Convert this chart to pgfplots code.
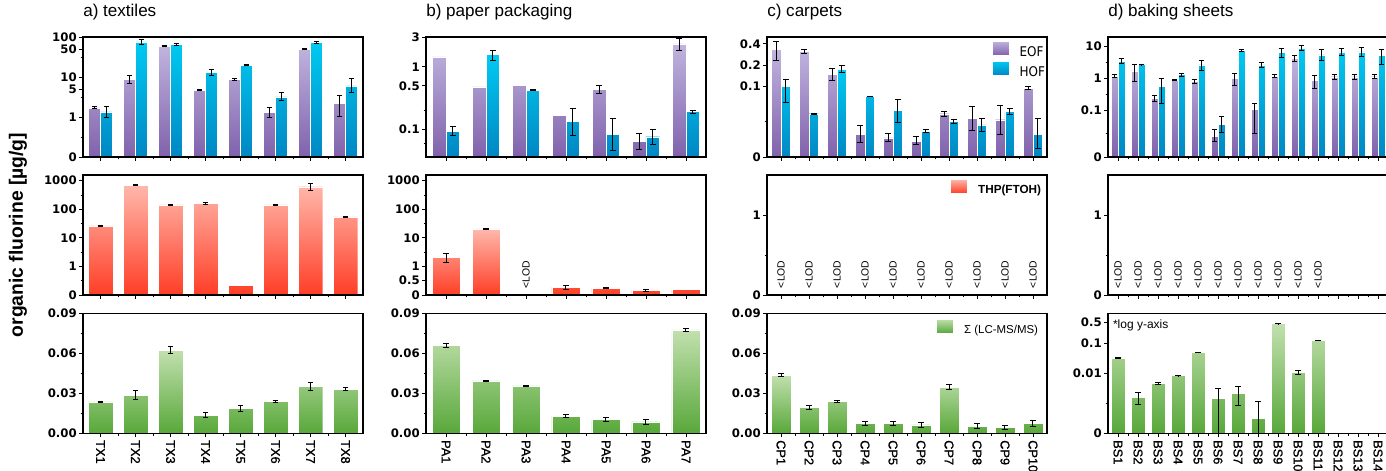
\documentclass[border=0pt]{standalone}
\usepackage{fontspec}
\setmainfont{Liberation Sans}
\newfontfamily\dvs{DejaVu Sans}
\newfontfamily\dvc{DejaVu Sans Condensed}
\newfontfamily\medsans{Liberation Sans}[FakeBold=1.1]
\usepackage{pgfplots}
\usepackage{pgfplotstable}
\pgfplotsset{compat=1.18}

\definecolor{eofT}{RGB}{192,180,222}
\definecolor{eofB}{RGB}{128,98,172}
\definecolor{hofT}{RGB}{0,202,242}
\definecolor{hofB}{RGB}{0,135,195}
\definecolor{thpT}{RGB}{255,184,172}
\definecolor{thpB}{RGB}{255,62,38}
\definecolor{lcT}{RGB}{194,224,174}
\definecolor{lcB}{RGB}{88,168,58}

% top row: EOF / HOF
\pgfplotstableread{
x y ep em
0 1.7 0.1 0.1
1 8.7 1.9 2.0
2 60 1.5 1.5
3 4.7 0.15 0.15
4 8.7 0.6 0.6
5 1.3 0.45 0.32
6 50 2.5 2.5
7 2.2 1.3 1.2
}\taEOF
\pgfplotstableread{
x y ep em
0 1.35 0.45 0.37
1 76 11.6 10.3
2 66 4 4
3 13.3 2.3 2.1
4 19.6 0.5 0.5
5 3.2 0.85 0.55
6 74 5 5
7 6 3.4 2
}\taHOF
\pgfplotstableread{
x y ep em
0 1.45 0 0
1 0.48 0 0
2 0.505 0 0
3 0.169 0 0
4 0.44 0.065 0.06
5 0.065 0.022 0.016
6 2.34 0.46 0.49
}\tbEOF
\pgfplotstableread{
x y ep em
0 0.095 0.017 0.013
1 1.57 0.28 0.29
2 0.425 0.012 0.012
3 0.135 0.079 0.053
4 0.084 0.067 0.038
5 0.077 0.023 0.02
6 0.194 0.01 0.01
}\tbHOF
\pgfplotstableread{
x y ep em
0 0.334 0.103 0.101
1 0.313 0.017 0.023
2 0.148 0.032 0.028
3 0.0207 0.0068 0.0049
4 0.0186 0.0028 0.0018
5 0.0167 0.0025 0.0018
6 0.041 0.003 0.003
7 0.0352 0.0168 0.0114
8 0.0337 0.0201 0.0127
9 0.0947 0.0033 0.003
}\tcEOF
\pgfplotstableread{
x y ep em
0 0.1 0.0257 0.0413
1 0.041 0.0005 0.0005
2 0.176 0.022 0.018
3 0.0722 0.0005 0.0005
4 0.0453 0.0202 0.0147
5 0.0231 0.0012 0.0011
6 0.032 0.002 0.0023
7 0.0284 0.0066 0.0053
8 0.0443 0.0047 0.0046
9 0.0209 0.0139 0.0076
}\tcHOF
\pgfplotstableread{
x y ep em
0 1.21 0.15 0.14
1 1.71 0.93 0.925
2 0.233 0.062 0.05
3 0.886 0.03 0.03
4 0.824 0.126 0.124
5 0.0155 0.009 0.005
6 1.0 0.44 0.384
7 0.108 0.055 0.0888
8 1.19 0.12 0.12
9 4.18 1.15 0.74
10 0.865 0.375 0.393
11 1.13 0.23 0.2
12 1.13 0.2 0.18
13 1.13 0.15 0.15
}\tdEOF
\pgfplotstableread{
x y ep em
0 3.52 0.78 0.54
1 2.7 0.05 0.05
2 0.573 0.427 0.41
3 1.31 0.14 0.13
4 2.64 0.97 0.81
5 0.0361 0.0285 0.0154
6 7.66 0.54 0.56
7 2.64 0.46 0.44
8 6.46 2.19 1.86
9 8.86 1.84 1.38
10 5.45 2.4 1.84
11 6.79 2.07 1.72
12 6.79 2.5 1.84
13 5.2 3.04 2.56
}\tdHOF

% middle row: THP(FTOH)
\pgfplotstableread{
x y ep em
0 26.2 1.5 1.5
1 706 45 45
2 142 8 8
3 162 9 9
4 0.223 0 0
5 142 7 7
6 617 183 147
7 54 3 3
}\maTHP
\pgfplotstableread{
x y ep em
0 2.06 0.71 0.68
1 20.6 1 1
3 0.19 0.033 0.028
4 0.175 0.01 0.01
5 0.149 0.012 0.012
6 0.154 0 0
}\mbTHP

% bottom row: sum LC-MS/MS
\pgfplotstableread{
x y ep em
0 0.0235 0.0003 0.0003
1 0.0285 0.0032 0.0032
2 0.0623 0.0025 0.0025
3 0.0135 0.0018 0.0018
4 0.0185 0.002 0.002
5 0.024 0.0006 0.0006
6 0.035 0.003 0.003
7 0.033 0.001 0.001
}\baLC
\pgfplotstableread{
x y ep em
0 0.0658 0.0012 0.0012
1 0.0393 0.0003 0.0003
2 0.0355 0.0005 0.0005
3 0.0128 0.0012 0.0012
4 0.0103 0.0015 0.0015
5 0.0085 0.0017 0.0017
6 0.0775 0.001 0.001
}\bbLC
\pgfplotstableread{
x y ep em
0 0.0438 0.001 0.001
1 0.0193 0.0015 0.0015
2 0.0238 0.0008 0.0008
3 0.0073 0.0013 0.0013
4 0.0073 0.0014 0.0014
5 0.0063 0.0018 0.0018
6 0.0345 0.0017 0.0017
7 0.0053 0.0017 0.0017
8 0.0043 0.0015 0.0015
9 0.0073 0.002 0.002
}\bcLC
\pgfplotstableread{
x y ep em
0 0.0329 0.0008 0.0008
1 0.00159 0.00064 0.00071
2 0.0046 0.0005 0.0004
3 0.00834 0.0002 0.0002
4 0.0497 0.001 0.001
5 0.00144 0.00166 0.00134
6 0.00217 0.00138 0.00134
7 0.00032 0.00085 0.00022
8 0.449 0.005 0.005
9 0.0108 0.0018 0.0015
10 0.126 0.002 0.002
}\bdLC

\tikzset{lod/.style={rotate=90, anchor=west, inner sep=0pt, font=\fontsize{7.8}{8}\selectfont}}

\pgfplotsset{
  panel/.style={
    scale only axis, width=210pt, height=90pt, axis on top,
    axis line style={line width=0.9pt},
    tick pos=left, tick align=outside,
    major tick length=3pt, minor tick length=1.8pt,
    every tick/.append style={black, line width=0.7pt},
    enlargelimits=false, scaled y ticks=false,
    minor x tick num=1,
    yticklabel style={font=\dvs\bfseries\fontsize{8.8}{10}\selectfont, inner sep=1.5pt},
    xticklabel style={font=\medsans\fontsize{9.6}{10}\selectfont, rotate=-90, anchor=west, inner sep=2pt},
    title style={at={(0,1)}, anchor=base west, yshift=9pt, inner sep=0pt,
      font=\fontsize{12.8}{14}\selectfont},
    legend style={draw=none, fill=none, inner sep=0pt, outer sep=0pt, row sep=2pt,
      nodes={inner sep=0pt}},
  },
  sw/.style={legend image code/.code={\path[##1] (0pt,-2.1pt) rectangle (12.75pt,8.4pt); \path (20.5pt,0pt);}},
  eofbar/.style={draw=white, line width=0.3pt, top color=eofT, bottom color=eofB},
  hofbar/.style={draw=white, line width=0.3pt, top color=hofT, bottom color=hofB},
  thpbar/.style={draw=white, line width=0.3pt, top color=thpT, bottom color=thpB},
  lcbar/.style={draw=white, line width=0.3pt, top color=lcT, bottom color=lcB},
  errs/.style={forget plot, draw=none, fill=none,
    restrict expr to domain={\thisrow{ep}}{0.0000001:1000000},
    error bars/y dir=both, error bars/y explicit,
    error bars/error bar style={draw=black, line width=0.75pt},
    error bars/error mark options={draw=black, line width=0.75pt, mark size=2.1pt, rotate=90}},
}

\begin{document}
\begin{tikzpicture}

% ---------- top row ----------
\begin{axis}[panel, at={(62.25pt,235.5pt)}, anchor=south west,
  title={a) textiles},
  ymode=log, log origin y=infty, ymin=0.1, ymax=100,
  ytick={0.1,1,5,10,50,100}, yticklabels={0,1,5,10,50,100},
  minor ytick={0.316,3.16,31.6},
  xmin=-0.5, xmax=7.5, xtick={0,...,7}, xticklabels={},
  ybar, bar width=0.34]
\addplot[bar shift=-0.17, eofbar] table[x=x,y=y]{\taEOF};
\addplot[bar shift=0.17, hofbar] table[x=x,y=y]{\taHOF};
\addplot[bar shift=-0.17, errs] table[x=x,y=y,y error plus=ep,y error minus=em]{\taEOF};
\addplot[bar shift=0.17, errs] table[x=x,y=y,y error plus=ep,y error minus=em]{\taHOF};
\end{axis}

\begin{axis}[panel, at={(319.5pt,235.5pt)}, anchor=south west,
  title={b) paper packaging},
  ymode=log, log origin y=infty, ymin=0.0366, ymax=3,
  ytick={0.1,0.5,1,3}, yticklabels={0.1,0.5,1,3},
  minor ytick={0.06,0.2},
  xmin=-0.5, xmax=6.5, xtick={0,...,6}, xticklabels={},
  ybar, bar width=0.34]
\addplot[bar shift=-0.17, eofbar] table[x=x,y=y]{\tbEOF};
\addplot[bar shift=0.17, hofbar] table[x=x,y=y]{\tbHOF};
\addplot[bar shift=-0.17, errs] table[x=x,y=y,y error plus=ep,y error minus=em]{\tbEOF};
\addplot[bar shift=0.17, errs] table[x=x,y=y,y error plus=ep,y error minus=em]{\tbHOF};
\end{axis}

\begin{axis}[panel, at={(575.25pt,235.5pt)}, anchor=south west,
  title={c) carpets},
  ymode=log, log origin y=infty, ymin=0.01, ymax=0.5,
  ytick={0.01,0.1,0.2,0.4}, yticklabels={0,0.1,0.2,0.4},
  minor ytick={0.0316},
  xmin=-0.5, xmax=9.5, xtick={0,...,9}, xticklabels={},
  ybar, bar width=0.34,
  legend style={at={(0.993,0.967)}, anchor=north east,
    font=\dvc\fontsize{10}{11}\selectfont, cells={anchor=west}}]
\addplot[bar shift=-0.17, eofbar, sw] table[x=x,y=y]{\tcEOF};
\addlegendentry{EOF}
\addplot[bar shift=0.17, hofbar, sw] table[x=x,y=y]{\tcHOF};
\addlegendentry{HOF}
\addplot[bar shift=-0.17, errs] table[x=x,y=y,y error plus=ep,y error minus=em]{\tcEOF};
\addplot[bar shift=0.17, errs] table[x=x,y=y,y error plus=ep,y error minus=em]{\tcHOF};
\end{axis}

\begin{axis}[panel, at={(831pt,235.5pt)}, anchor=south west,
  title={d) baking sheets},
  ymode=log, log origin y=infty, ymin=0.0034, ymax=20,
  ytick={0.0034,0.1,1,10}, yticklabels={0,0.1,1,10},
  minor ytick={0.019,0.316,3.16},
  xmin=-0.5, xmax=13.5, xtick={0,...,13}, xticklabels={},
  ybar, bar width=0.34]
\addplot[bar shift=-0.17, eofbar] table[x=x,y=y]{\tdEOF};
\addplot[bar shift=0.17, hofbar] table[x=x,y=y]{\tdHOF};
\addplot[bar shift=-0.17, errs] table[x=x,y=y,y error plus=ep,y error minus=em]{\tdEOF};
\addplot[bar shift=0.17, errs] table[x=x,y=y,y error plus=ep,y error minus=em]{\tdHOF};
\end{axis}

% ---------- middle row ----------
\begin{axis}[panel, at={(62.25pt,132pt)}, anchor=south west,
  ymode=log, log origin y=infty, ymin=0.1, ymax=1585,
  ytick={0.1,1,10,100,1000}, yticklabels={0,1,10,100,1000},
  minor ytick={0.316,3.16,31.6,316},
  xmin=-0.5, xmax=7.5, xtick={0,...,7}, xticklabels={},
  ybar, bar width=0.7]
\addplot[bar shift=0, thpbar] table[x=x,y=y]{\maTHP};
\addplot[bar shift=0, errs] table[x=x,y=y,y error plus=ep,y error minus=em]{\maTHP};
\end{axis}

\begin{axis}[panel, at={(319.5pt,132pt)}, anchor=south west,
  ymode=log, log origin y=infty, ymin=0.1, ymax=1585,
  ytick={0.1,0.316,1,10,100,1000}, yticklabels={0,0.5,1,10,100,1000},
  minor ytick={3.16,31.6,316},
  xmin=-0.5, xmax=6.5, xtick={0,...,6}, xticklabels={},
  ybar, bar width=0.7]
\addplot[bar shift=0, thpbar] table[x=x,y=y]{\mbTHP};
\addplot[bar shift=0, errs] table[x=x,y=y,y error plus=ep,y error minus=em]{\mbTHP};
\node[lod] at (axis cs:2,0.171) {<LOD};
\end{axis}

\begin{axis}[panel, at={(575.25pt,132pt)}, anchor=south west,
  ymin=0, ymax=1.5, ytick={0,1}, yticklabels={0,1}, minor ytick={0.5},
  xmin=-0.5, xmax=9.5, xtick={0,...,9}, xticklabels={},
  legend style={at={(0.979,0.967)}, anchor=north east,
    font=\bfseries\fontsize{8.8}{10}\selectfont, cells={anchor=west}}]
\addlegendimage{thpbar, sw}
\addlegendentry{THP(FTOH)}
\pgfplotsinvokeforeach{0,...,9}{\node[lod] at (axis cs:#1,0.084) {<LOD};}
\end{axis}

\begin{axis}[panel, at={(831pt,132pt)}, anchor=south west,
  ymin=0, ymax=1.5, ytick={0,1}, yticklabels={0,1}, minor ytick={0.5},
  xmin=-0.5, xmax=13.5, xtick={0,...,13}, xticklabels={}]
\pgfplotsinvokeforeach{0,...,10}{\node[lod] at (axis cs:#1,0.084) {<LOD};}
\end{axis}

% ---------- bottom row ----------
\begin{axis}[panel, at={(62.25pt,28.3pt)}, anchor=south west,
  ymin=0, ymax=0.09, ytick={0,0.03,0.06,0.09},
  yticklabels={0.00,0.03,0.06,0.09}, minor y tick num=1,
  xmin=-0.5, xmax=7.5, xtick={0,...,7},
  xticklabels={TX1,TX2,TX3,TX4,TX5,TX6,TX7,TX8},
  ybar, bar width=0.7]
\addplot[bar shift=0, lcbar] table[x=x,y=y]{\baLC};
\addplot[bar shift=0, errs] table[x=x,y=y,y error plus=ep,y error minus=em]{\baLC};
\end{axis}

\begin{axis}[panel, at={(319.5pt,28.3pt)}, anchor=south west,
  ymin=0, ymax=0.09, ytick={0,0.03,0.06,0.09},
  yticklabels={0.00,0.03,0.06,0.09}, minor y tick num=1,
  xmin=-0.5, xmax=6.5, xtick={0,...,6},
  xticklabels={PA1,PA2,PA3,PA4,PA5,PA6,PA7},
  ybar, bar width=0.7]
\addplot[bar shift=0, lcbar] table[x=x,y=y]{\bbLC};
\addplot[bar shift=0, errs] table[x=x,y=y,y error plus=ep,y error minus=em]{\bbLC};
\end{axis}

\begin{axis}[panel, at={(575.25pt,28.3pt)}, anchor=south west,
  ymin=0, ymax=0.09, ytick={0,0.03,0.06,0.09},
  yticklabels={0.00,0.03,0.06,0.09}, minor y tick num=1,
  xmin=-0.5, xmax=9.5, xtick={0,...,9},
  xticklabels={CP1,CP2,CP3,CP4,CP5,CP6,CP7,CP8,CP9,CP10},
  ybar, bar width=0.7,
  legend style={at={(0.968,0.953)}, anchor=north east,
    font=\fontsize{8.6}{10}\selectfont, cells={anchor=west}}]
\addplot[bar shift=0, lcbar, sw] table[x=x,y=y]{\bcLC};
\addlegendentry{Σ (LC-MS/MS)}
\addplot[bar shift=0, errs] table[x=x,y=y,y error plus=ep,y error minus=em]{\bcLC};
\end{axis}

\begin{axis}[panel, at={(831pt,28.3pt)}, anchor=south west,
  ymode=log, log origin y=infty, ymin=0.0001, ymax=1,
  ytick={0.0001,0.01,0.1,0.5}, yticklabels={0,0.01,0.1,0.5},
  minor ytick={0.001},
  xmin=-0.5, xmax=13.5, xtick={0,...,13},
  xticklabels={BS1,BS2,BS3,BS4,BS5,BS6,BS7,BS8,BS9,BS10,BS11,BS12,BS13,BS14},
  ybar, bar width=0.7]
\addplot[bar shift=0, lcbar] table[x=x,y=y]{\bdLC};
\addplot[bar shift=0, errs] table[x=x,y=y,y error plus=ep,y error minus=em]{\bdLC};
\node[anchor=north west, inner sep=0pt, font=\fontsize{9}{10}\selectfont]
  at (rel axis cs:0.017,0.945) {*log y-axis};
\end{axis}

\node[rotate=90, font=\bfseries\fontsize{14.5}{16}\selectfont] at (13.5pt,177pt)
  {organic fluorine [µg/g]};

\pgfresetboundingbox
\useasboundingbox (0,0) rectangle (1039.5pt,353.25pt);
\end{tikzpicture}
\end{document}
